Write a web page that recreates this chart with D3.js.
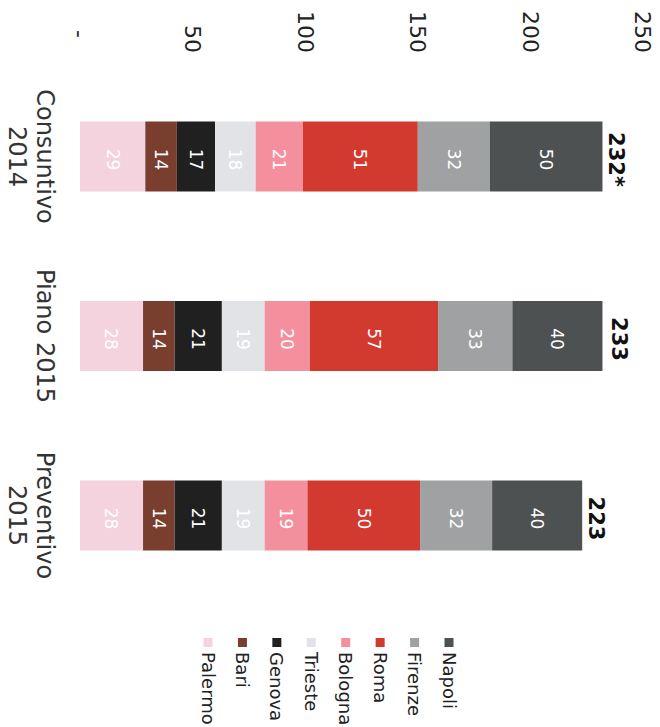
<!DOCTYPE html>
<html>
<head>
<meta charset="utf-8">
<script src="https://cdn.jsdelivr.net/npm/d3@7"></script>
<style>
  html, body { margin: 0; padding: 0; background: #fff; }
  svg { display: block; }
</style>
</head>
<body>
<svg id="chart" width="660" height="727"></svg>
<script>
// Costs by city (stacked), three budget scenarios
const categories = ["Consuntivo 2014", "Piano 2015", "Preventivo 2015"];
const categoryLines = [["Consuntivo", "2014"], ["Piano 2015"], ["Preventivo", "2015"]];
const cities = ["Palermo", "Bari", "Genova", "Trieste", "Bologna", "Roma", "Firenze", "Napoli"];

const palermo = [29, 28, 28];
const bari    = [14, 14, 14];
const genova  = [17, 21, 21];
const trieste = [18, 19, 19];
const bologna = [21, 20, 19];
const roma    = [51, 57, 50];
const firenze = [32, 33, 32];
const napoli  = [50, 40, 40];

const totals = [232, 233, 223];
const totalLabels = ["232*", "233", "223"];

const tickValues = [0, 50, 100, 150, 200, 250];
const tickLabels = ["-", "50", "100", "150", "200", "250"];

const cityColors = ["#f4d3de", "#7a3e2f", "#202020", "#e1e3e7", "#f4909e", "#d2392f", "#9fa1a3", "#4d5151"];

// ---- build rows for the stack
const seriesByCity = [palermo, bari, genova, trieste, bologna, roma, firenze, napoli];
const rows = categories.map((c, i) => {
  const r = { category: c };
  cities.forEach((city, k) => { r[city] = seriesByCity[k][i]; });
  return r;
});

const svg = d3.select("#chart");
const W = 660, H = 727;

// The whole column chart is laid out in an upright frame (727 wide, 660 tall)
// and turned a quarter turn clockwise onto the page.
const frame = svg.append("g").attr("transform", `translate(${W},0) rotate(90)`);

const x = d3.scaleBand()
  .domain(categories)
  .range([12, 660])
  .padding(0.61);

const y = d3.scaleLinear()
  .domain([0, 250])
  .range([580, 17]);

const color = d3.scaleOrdinal().domain(cities).range(cityColors);

const stacked = d3.stack().keys(cities)(rows);

// ---- value axis (labels only)
const yAxis = d3.axisLeft(y)
  .tickValues(tickValues)
  .tickFormat((d, i) => tickLabels[i])
  .tickSize(0)
  .tickPadding(0);

const axisG = frame.append("g")
  .attr("transform", "translate(53,0)")
  .call(yAxis);
axisG.select(".domain").remove();
axisG.selectAll("text")
  .attr("font-family", "DejaVu Sans, Verdana, sans-serif")
  .attr("font-size", 22)
  .attr("fill", "#222")
  .attr("dx", d => d === 0 ? -15 : 0);

// ---- stacked segments
const layer = frame.append("g").selectAll("g")
  .data(stacked)
  .join("g")
  .attr("fill", d => color(d.key));

layer.selectAll("rect")
  .data(d => d.map(s => ({ key: d.key, s })))
  .join("rect")
  .attr("x", d => x(d.s.data.category))
  .attr("width", x.bandwidth())
  .attr("y", d => y(d.s[1]))
  .attr("height", d => y(d.s[0]) - y(d.s[1]));

// ---- segment value labels
frame.append("g").selectAll("g")
  .data(stacked)
  .join("g")
  .selectAll("text")
  .data(d => d.map(s => ({ key: d.key, s })))
  .join("text")
  .attr("x", d => x(d.s.data.category) + x.bandwidth() / 2 + 3)
  .attr("y", d => (y(d.s[0]) + y(d.s[1])) / 2)
  .attr("dy", "0.36em")
  .attr("text-anchor", "middle")
  .attr("font-family", "DejaVu Sans, Verdana, sans-serif")
  .attr("font-size", 17)
  .attr("fill", "#fff")
  .text(d => d.s[1] - d.s[0]);

// ---- totals above each column
frame.append("g").selectAll("text")
  .data(categories)
  .join("text")
  .attr("x", c => x(c) + x.bandwidth() / 2 + 3)
  .attr("y", (c, i) => y(totals[i]) - 7)
  .attr("text-anchor", "middle")
  .attr("font-family", "DejaVu Sans, Verdana, sans-serif")
  .attr("font-weight", "bold")
  .attr("font-size", 21)
  .attr("fill", "#111")
  .text((c, i) => totalLabels[i]);

// ---- category labels
const catG = frame.append("g").selectAll("text")
  .data(categories)
  .join("text")
  .attr("text-anchor", "middle")
  .attr("font-family", "DejaVu Sans, Verdana, sans-serif")
  .attr("font-size", 24)
  .attr("fill", "#333");

catG.each(function (c, i) {
  const t = d3.select(this);
  categoryLines[i].forEach((line, j) => {
    t.append("tspan")
      .attr("x", x(c) + x.bandwidth() / 2)
      .attr("y", 623 + j * 28)
      .text(line);
  });
});

// ---- legend (top of stack listed first)
const legendOrder = cities.slice().reverse();
const legendY = d3.scalePoint()
  .domain(legendOrder)
  .range([211, 452]);

const legend = frame.append("g").selectAll("g")
  .data(legendOrder)
  .join("g")
  .attr("transform", d => `translate(638,${legendY(d)})`);

legend.append("rect")
  .attr("x", 0)
  .attr("y", -4.5)
  .attr("width", 9)
  .attr("height", 9)
  .attr("fill", d => color(d));

legend.append("text")
  .attr("x", 14)
  .attr("y", 0)
  .attr("dy", "0.36em")
  .attr("font-family", "DejaVu Sans, Verdana, sans-serif")
  .attr("font-size", 18)
  .attr("fill", "#222")
  .text(d => d);
</script>
</body>
</html>
